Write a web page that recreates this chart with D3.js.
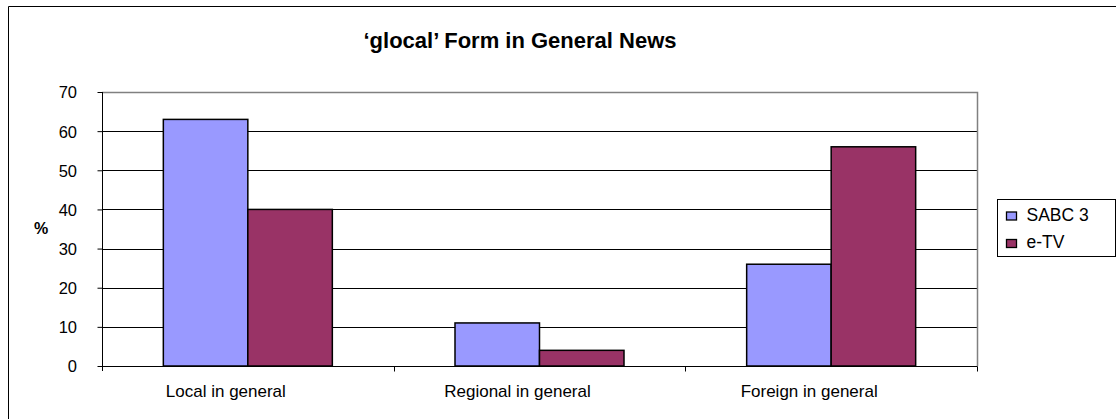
<!DOCTYPE html>
<html>
<head>
<meta charset="utf-8">
<script src="https://cdn.jsdelivr.net/npm/d3@7"></script>
<style>
  html, body { margin: 0; padding: 0; background: #fff; }
  svg { display: block; font-family: "Liberation Sans", Arial, sans-serif; }
</style>
</head>
<body>
<svg id="chart" width="1116" height="419"></svg>
<script>
// Share of general news items by geographic focus, per channel
const categories = ["Local in general", "Regional in general", "Foreign in general"];
const seriesNames = ["SABC 3", "e-TV"];
const sabc3 = [63, 11, 26];
const etv = [40, 4, 56];
const yTicks = [0, 10, 20, 30, 40, 50, 60, 70];
const colors = ["#9999ff", "#993366"];

const FONT = "Liberation Sans, Arial, sans-serif";
const svg = d3.select("#chart");

// outer frame (left and top edges)
svg.append("path")
  .attr("d", "M8.5,419 V6.5 H1116")
  .attr("fill", "none").attr("stroke", "#000").attr("stroke-width", 1);

const plot = { left: 102, right: 977, top: 92, bottom: 366 };

const x0 = d3.scaleBand().domain(categories).range([plot.left, plot.right]).padding(0);
const x1 = d3.scaleBand().domain(seriesNames).range([0, 169]).padding(0);
const y = d3.scaleLinear().domain([0, 70]).range([plot.bottom, plot.top]);

// gridlines
svg.append("g").selectAll("line").data(yTicks.filter(t => t > 0 && t < 70)).join("line")
  .attr("x1", plot.left).attr("x2", plot.right)
  .attr("y1", d => Math.round(y(d)) + 0.5).attr("y2", d => Math.round(y(d)) + 0.5)
  .attr("stroke", "#000").attr("stroke-width", 1);

// plot area border (top and right)
svg.append("path")
  .attr("d", `M${plot.left},${plot.top + 0.5} H${plot.right + 0.5} V${plot.bottom}`)
  .attr("fill", "none").attr("stroke", "#808080").attr("stroke-width", 1.5);

// bars
const data = categories.map((c, i) => ({ cat: c, values: [sabc3[i], etv[i]] }));
const groups = svg.append("g").selectAll("g").data(data).join("g")
  .attr("transform", d => `translate(${x0(d.cat) + (x0.bandwidth() - 169) / 2},0)`);
groups.selectAll("rect").data(d => d.values.map((v, j) => ({ name: seriesNames[j], v, j }))).join("rect")
  .attr("x", d => x1(d.name))
  .attr("width", x1.bandwidth())
  .attr("y", d => y(d.v))
  .attr("height", d => y(0) - y(d.v))
  .attr("fill", d => colors[d.j])
  .attr("stroke", "#000").attr("stroke-width", 1.5);

// y axis
const yAxis = d3.axisLeft(y).tickValues(yTicks).tickSize(5).tickPadding(20);
const yg = svg.append("g").attr("transform", `translate(${plot.left + 0.5},0)`).call(yAxis);
yg.select(".domain").attr("d", `M-0,${plot.top}V${plot.bottom + 5}`);
yg.selectAll("text").attr("font-size", 16.5).attr("font-family", FONT)
  .attr("fill", "#000").attr("x", -25.5).attr("dy", "0.36em");

// x axis
const xAxis = d3.axisBottom(x0).tickSize(0).tickPadding(0);
const xg = svg.append("g").attr("transform", `translate(0,${plot.bottom + 0.5})`).call(xAxis);
xg.select(".domain").attr("d", `M${plot.left},0H${plot.right + 0.5}`).attr("stroke", "#000");
xg.selectAll("text").attr("font-size", 17).attr("font-family", FONT).attr("fill", "#000")
  .attr("dy", null).attr("y", 30).attr("dx", -22);
// category boundary ticks
xg.append("g").selectAll("line").data(categories.slice(1).concat(["__end"])).join("line")
  .attr("x1", d => d === "__end" ? plot.right + 0.5 : Math.round(x0(d)) + 0.5)
  .attr("x2", d => d === "__end" ? plot.right + 0.5 : Math.round(x0(d)) + 0.5)
  .attr("y1", 0).attr("y2", 5).attr("stroke", "#000");

// title
svg.append("text")
  .attr("x", 520).attr("y", 47.5)
  .attr("text-anchor", "middle")
  .attr("font-size", 22).attr("font-weight", "bold")
  .text("\u2018glocal\u2019 Form in General News");

// y axis label
svg.append("text")
  .attr("x", 41).attr("y", 233.5)
  .attr("text-anchor", "middle")
  .attr("font-size", 16).attr("font-weight", "bold")
  .text("%");

// legend
const legend = svg.append("g").attr("transform", "translate(997.5,199.5)");
legend.append("rect").attr("width", 118).attr("height", 57)
  .attr("fill", "#fff").attr("stroke", "#000").attr("stroke-width", 1);
const items = legend.selectAll("g").data(seriesNames).join("g")
  .attr("transform", (d, i) => `translate(9,${12.5 + i * 27.5})`);
items.append("rect").attr("width", 10).attr("height", 8)
  .attr("fill", (d, i) => colors[i]).attr("stroke", "#000").attr("stroke-width", 1.3);
items.append("text").attr("x", 20).attr("y", 8.5)
  .attr("font-size", 17.5).text(d => d);
</script>
</body>
</html>
